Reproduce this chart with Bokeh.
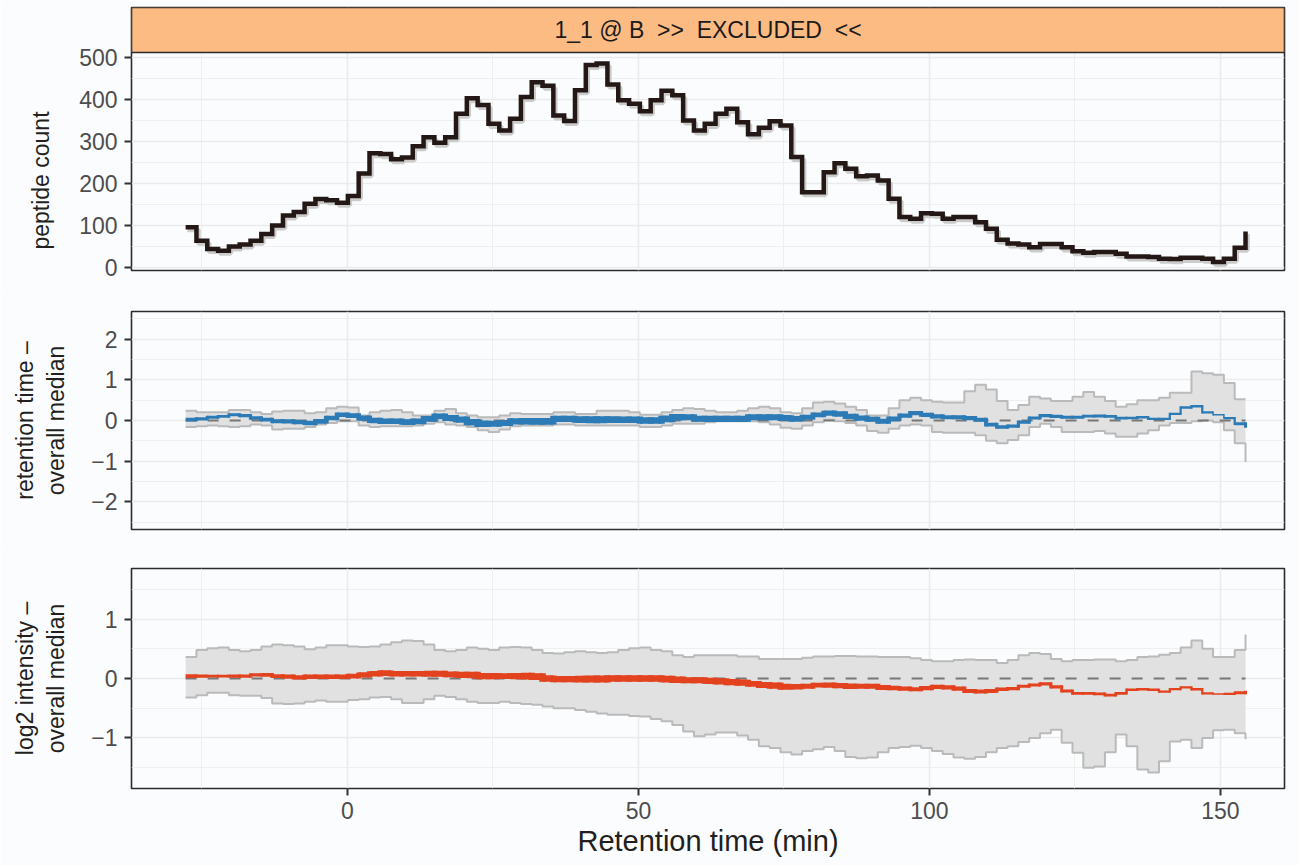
import numpy as np
from bokeh.plotting import figure
from bokeh.layouts import column
from bokeh.models import FixedTicker, ColumnDataSource
from bokeh.embed import file_html
from bokeh.resources import INLINE
from bokeh.core.properties import value

# ---------------------------------------------------------------------------
# Data: one value per retention-time bin
# ---------------------------------------------------------------------------
RT_FIRST = -27.8      # start of first bin (min)
RT_STEP = 1.8582      # bin width (min)

peptide_count = [
    96, 64, 44, 40, 50, 55, 64, 80, 100, 124,
    132, 152, 163, 160, 154, 170, 224, 272, 270, 258,
    262, 289, 310, 297, 310, 366, 403, 387, 342, 326,
    354, 406, 441, 433, 362, 349, 422, 482, 486, 436,
    398, 390, 372, 398, 421, 410, 350, 326, 342, 366,
    378, 346, 317, 333, 348, 338, 263, 179, 179, 227,
    248, 235, 217, 219, 207, 164, 120, 116, 129, 128,
    116, 120, 120, 108, 92, 66, 57, 55, 48, 56,
    56, 48, 39, 35, 37, 37, 33, 26, 26, 25,
    21, 20, 23, 23, 21, 13, 21, 47, 86,
]

rt_median = [
    0.02, 0.04, 0.08, 0.10, 0.14, 0.12, 0.06, 0.02, -0.02, -0.02,
    -0.04, -0.06, -0.02, 0.06, 0.14, 0.12, 0.06, 0.00, -0.02, -0.02,
    -0.04, -0.02, 0.04, 0.10, 0.06, 0.02, -0.04, -0.08, -0.08, -0.06,
    -0.02, -0.02, -0.02, -0.02, 0.04, 0.04, 0.02, 0.02, 0.02, 0.02,
    0.02, 0.02, 0.00, 0.00, 0.04, 0.08, 0.08, 0.04,
    0.04, 0.04, 0.04, 0.04, 0.08, 0.08, 0.08, 0.06, 0.04, 0.08,
    0.14, 0.18, 0.16, 0.10, 0.06, 0.03, -0.02, 0.04, 0.12, 0.18,
    0.14, 0.10, 0.08, 0.08, 0.06, 0.02, -0.10, -0.16, -0.14, -0.04,
    0.06, 0.12, 0.10, 0.08, 0.08, 0.11, 0.11, 0.10, 0.06, 0.06,
    0.08, 0.04, 0.04, 0.16, 0.32, 0.35, 0.20, 0.14, 0.06, -0.08,
    -0.14,
]

rt_upper = [
    0.24, 0.20, 0.20, 0.20, 0.26, 0.26, 0.20, 0.16, 0.22, 0.24,
    0.24, 0.18, 0.20, 0.30, 0.34, 0.32, 0.12, 0.20, 0.24, 0.26,
    0.20, 0.12, 0.12, 0.24, 0.28, 0.18, 0.12, 0.08, 0.08, 0.12,
    0.18, 0.16, 0.16, 0.16, 0.20, 0.20, 0.16, 0.16, 0.24, 0.24,
    0.24, 0.20, 0.14, 0.14, 0.20, 0.26, 0.30, 0.28,
    0.24, 0.20, 0.20, 0.24, 0.30, 0.34, 0.30, 0.20, 0.18, 0.30,
    0.44, 0.46, 0.42, 0.34, 0.26, 0.12, 0.12, 0.30, 0.50, 0.56,
    0.50, 0.46, 0.44, 0.44, 0.72, 0.88, 0.76, 0.48, 0.26, 0.38,
    0.58, 0.54, 0.48, 0.48, 0.58, 0.70, 0.58, 0.48, 0.34, 0.40,
    0.50, 0.50, 0.56, 0.68, 0.68, 1.20, 1.16, 1.12, 0.92, 0.52,
    0.52,
]

rt_lower = [
    -0.16, -0.14, -0.12, -0.14, -0.16, -0.14, -0.10, -0.12, -0.22, -0.20,
    -0.20, -0.16, -0.10, -0.06, -0.02, -0.02, -0.12, -0.16, -0.14, -0.14,
    -0.14, -0.12, -0.08, -0.04, -0.10, -0.12, -0.16, -0.24, -0.28, -0.22,
    -0.14, -0.12, -0.12, -0.12, -0.10, -0.10, -0.12, -0.12, -0.12, -0.12,
    -0.12, -0.12, -0.16, -0.16, -0.12, -0.08, -0.08, -0.08,
    -0.04, -0.02, -0.02, -0.02, -0.02, -0.04, -0.10, -0.18, -0.20, -0.12,
    -0.04, 0.02, -0.02, -0.06, -0.12, -0.26, -0.30, -0.20, -0.12, -0.10,
    -0.12, -0.28, -0.30, -0.30, -0.30, -0.36, -0.50, -0.56, -0.48, -0.36,
    -0.16, -0.08, -0.16, -0.28, -0.28, -0.28, -0.26, -0.32, -0.40, -0.40,
    -0.32, -0.24, -0.12, -0.06, -0.06, -0.02, 0.00, -0.04, -0.24, -0.56,
    -1.02,
]

int_median = [
    0.04, 0.04, 0.04, 0.04, 0.04, 0.04, 0.06, 0.06, 0.04, 0.03,
    0.02, 0.03, 0.03, 0.03, 0.03, 0.04, 0.06, 0.08, 0.09, 0.08,
    0.08, 0.08, 0.08, 0.08, 0.07, 0.06, 0.06, 0.04, 0.04, 0.04,
    0.04, 0.04, 0.03, 0.00, -0.01, -0.01, -0.01, -0.01, -0.01, 0.00,
    0.00, 0.00, 0.00, 0.00, -0.01, -0.02, -0.03, -0.03,
    -0.04, -0.05, -0.06, -0.07, -0.09, -0.11, -0.12, -0.14, -0.14, -0.13,
    -0.11, -0.11, -0.12, -0.13, -0.13, -0.13, -0.15, -0.16, -0.17, -0.18,
    -0.16, -0.14, -0.15, -0.17, -0.21, -0.22, -0.21, -0.18, -0.17, -0.13,
    -0.11, -0.09, -0.14, -0.21, -0.25, -0.25, -0.26, -0.28, -0.25, -0.19,
    -0.18, -0.19, -0.22, -0.18, -0.15, -0.18, -0.25, -0.26, -0.26, -0.24,
    -0.23,
]

int_upper = [
    0.36, 0.48, 0.51, 0.52, 0.48, 0.46, 0.48, 0.54, 0.57, 0.56,
    0.54, 0.49, 0.52, 0.56, 0.56, 0.54, 0.53, 0.54, 0.57, 0.61,
    0.64, 0.63, 0.57, 0.48, 0.46, 0.48, 0.52, 0.50, 0.48, 0.52,
    0.53, 0.52, 0.48, 0.43, 0.42, 0.44, 0.46, 0.44, 0.43, 0.44,
    0.48, 0.51, 0.52, 0.48, 0.46, 0.39, 0.36, 0.39,
    0.39, 0.39, 0.39, 0.37, 0.37, 0.33, 0.33, 0.33, 0.33, 0.35,
    0.37, 0.37, 0.38, 0.38, 0.37, 0.37, 0.36, 0.36, 0.36, 0.34,
    0.31, 0.29, 0.29, 0.31, 0.32, 0.31, 0.31, 0.26, 0.31, 0.39,
    0.43, 0.41, 0.33, 0.29, 0.31, 0.31, 0.32, 0.32, 0.29, 0.31,
    0.36, 0.37, 0.40, 0.43, 0.52, 0.64, 0.50, 0.36, 0.36, 0.48,
    0.74,
]

int_lower = [
    -0.32, -0.28, -0.24, -0.24, -0.28, -0.29, -0.29, -0.33, -0.42, -0.43,
    -0.42, -0.39, -0.37, -0.39, -0.39, -0.36, -0.35, -0.32, -0.31, -0.35,
    -0.41, -0.41, -0.35, -0.29, -0.31, -0.35, -0.39, -0.41, -0.41, -0.39,
    -0.41, -0.43, -0.44, -0.47, -0.50, -0.50, -0.53, -0.56, -0.59, -0.61,
    -0.61, -0.63, -0.64, -0.68, -0.72, -0.78, -0.89, -0.97,
    -0.94, -0.91, -0.91, -0.96, -1.03, -1.14, -1.17, -1.24, -1.28, -1.22,
    -1.19, -1.15, -1.22, -1.32, -1.34, -1.33, -1.24, -1.17, -1.15, -1.13,
    -1.17, -1.22, -1.27, -1.33, -1.35, -1.32, -1.24, -1.17, -1.14, -1.07,
    -1.00, -0.92, -0.86, -1.08, -1.25, -1.50, -1.48, -1.24, -0.94, -1.14,
    -1.53, -1.58, -1.39, -1.06, -1.03, -1.17, -1.00, -0.87, -0.86, -0.92,
    -1.02,
]

NBSP = "\u00a0"
strip_label = "1_1 @ B" + NBSP * 2 + ">>" + NBSP * 2 + "EXCLUDED" + NBSP * 2 + "<<"
x_title = "Retention time (min)"
# the count title is padded so that it sits centred on the data panel, not on panel + strip
y_titles = ["peptide count" + NBSP * 13,
            "retention time \u2013\noverall median",
            "log2 intensity \u2013\noverall median"]

x_ticks = [0, 50, 100, 150]
x_minor = [-25, 25, 75, 125]
count_ticks = [0, 100, 200, 300, 400, 500]
count_minor = [50, 150, 250, 350, 450]
rt_ticks = [-2, -1, 0, 1, 2]
rt_minor = [-2.5, -1.5, -0.5, 0.5, 1.5, 2.5]
int_ticks = [-1, 0, 1]
int_minor = [-1.5, -0.5, 0.5, 1.5]

# ---------------------------------------------------------------------------
# Styling
# ---------------------------------------------------------------------------
FONT = "Liberation Sans"
BG = "#fbfcfe"
INK = "#231f20"
TICK_TXT = "#4d4d4d"
GRID = "#ebebeb"
FRAME = "#2b2b2b"
RIBBON_FILL = "#e1e1e1"
RIBBON_EDGE = "#bababa"
COUNT_COLOR = "#241816"
RT_COLOR = "#2c7bb6"
INT_COLOR = "#e3421f"
STRIP_FILL = "#fdbb84"

X_LO, X_HI = -37.1, 161.0
W = 1299
LEFT, RIGHT = 131, 15

rt = RT_FIRST + RT_STEP * np.arange(len(peptide_count))
cnt = np.asarray(peptide_count, dtype=float)
# line width of the median traces grows with the number of peptides per bin
size_frac = (cnt - cnt.min()) / (cnt.max() - cnt.min())
trace_width = 1.6 + 5.4 * np.sqrt(size_frac)


def step_path(x, y):
    """Vertices of a horizontal-then-vertical step path through (x, y)."""
    xs, ys = [], []
    for k in range(len(x) - 1):
        xs += [x[k], x[k + 1]]
        ys += [y[k], y[k]]
    xs.append(x[-1])
    ys.append(y[-1])
    return xs, ys


def make_panel(height, y_range, border_top, border_bottom, yticks, yminor, ytitle, title_standoff):
    p = figure(width=W, height=height, x_range=(X_LO, X_HI), y_range=y_range,
               output_backend="svg", toolbar_location=None, title=None,
               min_border_left=LEFT, min_border_right=RIGHT,
               min_border_top=border_top, min_border_bottom=border_bottom,
               background_fill_color=BG, border_fill_color=BG,
               outline_line_color=FRAME, outline_line_width=1.6)
    xt = FixedTicker(ticks=x_ticks, minor_ticks=x_minor)
    yt = FixedTicker(ticks=yticks, minor_ticks=yminor)
    p.xaxis.ticker = xt
    p.xgrid.ticker = xt
    p.yaxis.ticker = yt
    p.ygrid.ticker = yt
    for g in (p.xgrid, p.ygrid):
        g.grid_line_color = GRID
        g.grid_line_width = 1.6
        g.minor_grid_line_color = GRID
        g.minor_grid_line_width = 0.8
    for ax in (p.xaxis[0], p.yaxis[0]):
        ax.axis_line_color = None
        ax.major_tick_out = 7
        ax.major_tick_in = 0
        ax.major_tick_line_width = 2
        ax.major_tick_line_color = "#333333"
        ax.minor_tick_line_color = None
        ax.major_label_text_font = FONT
        ax.major_label_text_font_size = "23px"
        ax.major_label_text_color = TICK_TXT
        ax.axis_label_text_font = FONT
        ax.axis_label_text_font_style = "normal"
        ax.axis_label_text_color = INK
    ya = p.yaxis[0]
    ya.axis_label = ytitle
    ya.axis_label_text_font_size = "23px"
    ya.axis_label_standoff = title_standoff
    ya.major_label_standoff = 7
    ya.major_label_overrides = {t: ("\u2212" + str(abs(t)) if t < 0 else str(t)) for t in yticks}
    return p


def draw_band_panel(p, med, lo, hi, color):
    ux, uy = step_path(rt, hi)
    lx, ly = step_path(rt, lo)
    p.patch(ux + lx[::-1], uy + ly[::-1], fill_color=RIBBON_FILL, line_color=None)
    p.step(rt, hi, mode="after", line_color=RIBBON_EDGE, line_width=2)
    p.step(rt, lo, mode="after", line_color=RIBBON_EDGE, line_width=2)
    p.segment(x0=[rt[0]], x1=[rt[-1]], y0=[0], y1=[0],
              line_color="#777777", line_width=2, line_dash="11 11")
    y = np.asarray(med, dtype=float)
    vsrc = ColumnDataSource(dict(x=rt[1:], y0=y[:-1], y1=y[1:],
                                 w=np.minimum(trace_width[:-1], trace_width[1:])))
    p.segment(x0="x", x1="x", y0="y0", y1="y1", line_width="w",
              line_color=color, line_cap="square", source=vsrc)
    hsrc = ColumnDataSource(dict(x0=rt[:-1], x1=rt[1:], y=y[:-1], w=trace_width[:-1]))
    p.segment(x0="x0", x1="x1", y0="y", y1="y", line_width="w",
              line_color=color, line_cap="butt", source=hsrc)


# ---------------------------------------------------------------------------
# Panel 1: peptide count per bin, with the facet strip across its top
# ---------------------------------------------------------------------------
COUNT_LO, COUNT_HI = -7.1, 511.9
PANEL1_PX = 218.0
STRIP_PX = 45.0
strip_units = STRIP_PX * (COUNT_HI - COUNT_LO) / PANEL1_PX
p1 = make_panel(290, (COUNT_LO, COUNT_HI + strip_units), 7, 20,
                count_ticks, count_minor, y_titles[0], 22)
p1.xaxis.visible = False
p1.quad(left=[X_LO], right=[X_HI], bottom=[COUNT_HI], top=[COUNT_HI + strip_units],
        fill_color=STRIP_FILL, line_color=FRAME, line_width=1.6)
p1.text(x=[(X_LO + X_HI) / 2], y=[COUNT_HI + strip_units / 2], text=[strip_label],
        text_align="center", text_baseline="middle", text_font=value(FONT),
        text_font_size="23px", text_color="#1a1a1a")
# soft grey trace beneath the count line
p1.step(rt + 0.3, cnt - 6, mode="after", line_color="#cbcbcb", line_width=5)
p1.step(rt, cnt, mode="after", line_color=COUNT_COLOR, line_width=4.5, line_join="miter")

# ---------------------------------------------------------------------------
# Panel 2: retention time deviation
# ---------------------------------------------------------------------------
p2 = make_panel(259, (-2.675, 2.675), 21, 20, rt_ticks, rt_minor, y_titles[1], 19)
p2.xaxis.visible = False
draw_band_panel(p2, rt_median, rt_lower, rt_upper, RT_COLOR)

# ---------------------------------------------------------------------------
# Panel 3: intensity deviation
# ---------------------------------------------------------------------------
p3 = make_panel(316, (-1.85, 1.85), 19, 77, int_ticks, int_minor, y_titles[2], 19)
draw_band_panel(p3, int_median, int_lower, int_upper, INT_COLOR)
xa = p3.xaxis[0]
xa.axis_label = x_title
xa.axis_label_text_font_size = "29px"
xa.major_label_standoff = 6
xa.axis_label_standoff = 3

layout = column(p1, p2, p3, spacing=0)
open("out.html", "w").write(file_html(layout, INLINE))
